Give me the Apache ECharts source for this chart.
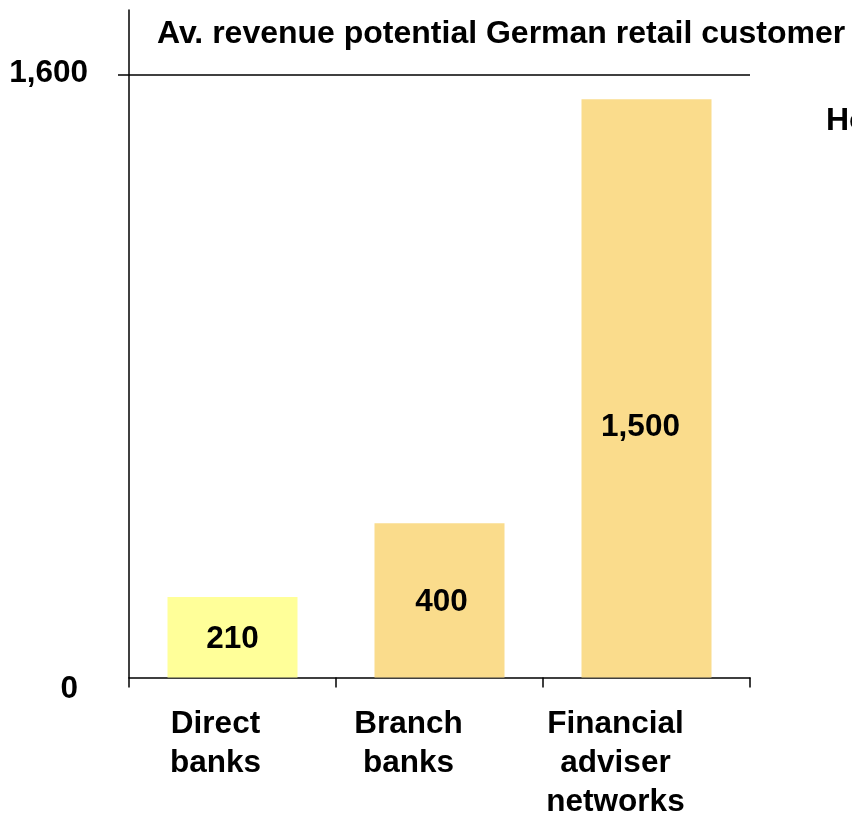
<!DOCTYPE html>
<html>
<head>
<meta charset="utf-8">
<script src="https://cdn.jsdelivr.net/npm/echarts@6/dist/echarts.min.js"></script>
<style>
  html, body { margin: 0; padding: 0; background: #fff; }
  #main { width: 852px; height: 815px; }
</style>
</head>
<body>
<div id="main"></div>
<script>
// categories and values
var categories = ["Direct\nbanks", "Branch\nbanks", "Financial\nadviser\nnetworks"];
var barValues = [214, 410, 1536];          // bar heights as drawn
var valueLabels = ["210", "400", "1,500"];  // printed numbers
var barColors = ["#FFFF99", "#FADC8C", "#FADC8C"];
var yTicks = [0, 1600];

var FONT = "Liberation Sans";
var FS = 31.5;
var chart = echarts.init(document.getElementById("main"));

chart.setOption({
  animation: false,
  textStyle: { fontFamily: FONT },
  title: [
    {
      text: "Av. revenue potential German retail customer",
      left: 157,
      top: 18.5,
      padding: 0,
      textStyle: { fontSize: 32, fontWeight: "bold", color: "#000", fontFamily: FONT }
    },
    {
      text: "Ho",
      left: 826,
      top: 105,
      padding: 0,
      textStyle: { fontSize: 32, fontWeight: "bold", color: "#000", fontFamily: FONT }
    }
  ],
  grid: { left: 129, right: 102, top: 10, bottom: 137.5, containLabel: false, outerBoundsMode: "none" },
  xAxis: {
    type: "category",
    data: categories.map(function (c, i) {
      return { value: c, textStyle: { padding: [0, i === 0 ? 34 : 62, 0, 0] } };
    }),
    boundaryGap: true,
    axisLine: { lineStyle: { color: "#000", width: 1.5 } },
    axisTick: { show: true, alignWithLabel: false, length: 10, lineStyle: { color: "#000", width: 1.5 } },
    axisLabel: {
      margin: 27,
      fontSize: FS,
      fontWeight: "bold",
      color: "#000",
      lineHeight: 39,
      fontFamily: FONT,
      interval: 0
    }
  },
  yAxis: {
    type: "value",
    min: 0,
    max: 1773,
    axisLine: { show: true, lineStyle: { color: "#000", width: 1.5 } },
    axisTick: { show: true, customValues: [1600], length: 11, lineStyle: { color: "#000", width: 1.5 } },
    splitLine: { show: false },
    axisLabel: {
      customValues: yTicks,
      margin: 41,
      formatter: function (v) {
        return v === 0 ? "{z|0}" : "{t|" + v.toLocaleString("en-US") + "}";
      },
      rich: {
        z: { fontSize: FS, fontWeight: "bold", color: "#000", fontFamily: FONT, padding: [23, 10, 0, 0] },
        t: { fontSize: FS, fontWeight: "bold", color: "#000", fontFamily: FONT, padding: [0, 0, 4, 0] }
      }
    }
  },
  series: [
    {
      type: "bar",
      barWidth: 130,
      data: barValues.map(function (v, i) {
        var offsets = [[0, 2.5], [2, 2], [-6, 39]];
        return {
          value: v,
          itemStyle: { color: barColors[i] },
          label: { offset: offsets[i] }
        };
      }),
      label: {
        show: true,
        position: "inside",
        fontSize: FS,
        fontWeight: "bold",
        color: "#000",
        fontFamily: FONT,
        formatter: function (p) { return valueLabels[p.dataIndex]; }
      },
      markLine: {
        silent: true,
        symbol: ["none", "none"],
        label: { show: false },
        lineStyle: { color: "#000", width: 1.5, type: "solid" },
        data: [{ yAxis: 1600 }]
      }
    }
  ]
});
</script>
</body>
</html>
